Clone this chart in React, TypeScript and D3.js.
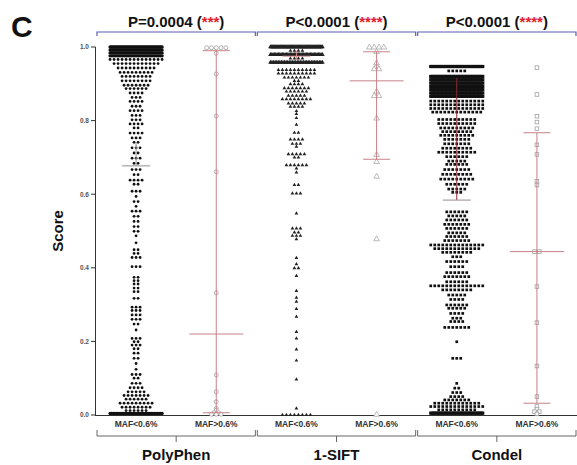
import React from "react";
import * as d3 from "d3";

const W = 577;
const H = 465;

const tools = ["PolyPhen", "1-SIFT", "Condel"];
const mafLabels = ["MAF<0.6%", "MAF>0.6%"];
const pValues = ["P=0.0004", "P<0.0001", "P<0.0001"];
const stars = ["***", "****", "****"];
const yTicks = [0, 0.2, 0.4, 0.6, 0.8, 1.0];

// rows of dots: [score, number of dots in that row]
const polyphenLow: [number, number][] = [
  [1.0, 45], [0.992, 40], [0.984, 35], [0.976, 30],
  [0.966, 14], [0.955, 12], [0.943, 10], [0.931, 9], [0.92, 8], [0.908, 8], [0.896, 7], [0.887, 6],
  [0.875, 4], [0.863, 3], [0.852, 4], [0.839, 3], [0.827, 4], [0.814, 3], [0.802, 3], [0.791, 4],
  [0.78, 2], [0.766, 4], [0.753, 3], [0.741, 2], [0.726, 3], [0.712, 2], [0.698, 3], [0.684, 2],
  [0.667, 3], [0.653, 2], [0.638, 4], [0.627, 2], [0.608, 3], [0.594, 1], [0.58, 2], [0.567, 1],
  [0.554, 3], [0.54, 2], [0.526, 2], [0.512, 2], [0.499, 2], [0.487, 1], [0.468, 1], [0.449, 2],
  [0.439, 2], [0.428, 3], [0.403, 3], [0.374, 2], [0.365, 2], [0.356, 2], [0.345, 2], [0.335, 2],
  [0.317, 2], [0.293, 3], [0.284, 3], [0.272, 3], [0.26, 3], [0.247, 2], [0.231, 1], [0.208, 3],
  [0.199, 2], [0.19, 3], [0.18, 2], [0.168, 2], [0.154, 2], [0.14, 1], [0.124, 1], [0.11, 3],
  [0.1, 2], [0.086, 3], [0.074, 4], [0.063, 5], [0.053, 7], [0.043, 6], [0.032, 9], [0.021, 8],
  [0.012, 6], [0.004, 35],
];

const polyphenHigh: [number, number][] = [
  [0.998, 5], [0.983, 1], [0.927, 1], [0.812, 1], [0.661, 1], [0.332, 1], [0.109, 1], [0.063, 1],
  [0.036, 1], [0.018, 1], [0.013, 1], [0.006, 2], [0.002, 3],
];

const siftLow: [number, number][] = [
  [1.0, 60], [0.99, 4], [0.979, 40], [0.969, 4], [0.958, 34], [0.938, 10], [0.928, 10],
  [0.917, 7], [0.908, 2], [0.899, 4], [0.888, 7], [0.879, 6], [0.868, 5], [0.858, 8], [0.847, 5],
  [0.838, 4], [0.826, 1], [0.818, 1], [0.807, 1], [0.789, 1], [0.767, 2], [0.749, 4], [0.737, 3],
  [0.729, 1], [0.709, 5], [0.7, 2], [0.679, 6], [0.67, 1], [0.659, 1], [0.625, 2], [0.602, 3],
  [0.548, 1], [0.507, 3], [0.496, 2], [0.487, 3], [0.478, 1], [0.427, 1], [0.41, 1], [0.399, 2],
  [0.378, 1], [0.337, 1], [0.319, 1], [0.308, 1], [0.288, 1], [0.267, 1], [0.226, 1], [0.208, 1],
  [0.178, 1], [0.148, 1], [0.097, 1], [0.018, 1], [0.0, 8],
];

const siftHigh: [number, number][] = [
  [0.999, 4], [0.987, 1], [0.956, 1], [0.947, 1], [0.94, 2], [0.879, 1], [0.867, 2], [0.806, 1],
  [0.707, 1], [0.688, 1], [0.648, 1], [0.478, 1], [0.001, 1],
];

const condelLow: [number, number][] = [
  [0.947, 30], [0.935, 5], [0.92, 35], [0.911, 35], [0.902, 38], [0.893, 40], [0.884, 40],
  [0.875, 40], [0.866, 40], [0.853, 14], [0.843, 14], [0.833, 14], [0.823, 13], [0.803, 10],
  [0.792, 10], [0.78, 9], [0.77, 8], [0.76, 9], [0.749, 7], [0.737, 7], [0.725, 8], [0.714, 10],
  [0.702, 6], [0.69, 5], [0.681, 6], [0.667, 7], [0.654, 8], [0.641, 9], [0.627, 6], [0.614, 5],
  [0.605, 3], [0.552, 6], [0.541, 5], [0.53, 6], [0.518, 7], [0.507, 6], [0.495, 5], [0.485, 6],
  [0.474, 7], [0.462, 14], [0.452, 12], [0.442, 8], [0.43, 3], [0.417, 6], [0.403, 4], [0.387, 6],
  [0.376, 7], [0.362, 6], [0.351, 14], [0.34, 8], [0.326, 5], [0.314, 4], [0.299, 6], [0.29, 5],
  [0.276, 4], [0.263, 3], [0.254, 4], [0.238, 7], [0.199, 1], [0.154, 3], [0.086, 1], [0.073, 2],
  [0.061, 3], [0.05, 4], [0.041, 7], [0.032, 12], [0.023, 14], [0.014, 10], [0.005, 40],
];

const condelHigh: [number, number][] = [
  [0.944, 1], [0.871, 1], [0.812, 1], [0.796, 1], [0.778, 1], [0.734, 1], [0.708, 1], [0.635, 1],
  [0.625, 1], [0.444, 2], [0.349, 1], [0.251, 1], [0.133, 1], [0.05, 1], [0.023, 1], [0.016, 1],
  [0.009, 2], [0.003, 1],
];

const seriesRows = [polyphenLow, polyphenHigh, siftLow, siftHigh, condelLow, condelHigh];
const medians = [0.677, 0.22, 0.975, 0.908, 0.584, 0.444];
const errLow = [0.677, 0.006, 0.965, 0.695, 0.584, 0.032];
const errHigh = [0.74, 0.99, 0.99, 0.987, 0.916, 0.767];

const FONT = "Arial, 'Liberation Sans', Helvetica, sans-serif";

export default function App() {
  const keys = d3.range(6).map(String);
  const x = d3.scaleBand<string>().domain(keys).range([96, 577]);
  const y = d3.scaleLinear().domain([0, 1]).range([415, 47]);
  const cx = (i: number) => (x(String(i)) as number) + x.bandwidth() / 2;

  const triSmall = d3.symbol().type(d3.symbolTriangle).size(6)() as string;
  const triBar = d3.symbol().type(d3.symbolTriangle).size(9)() as string;
  const triOpen = d3.symbol().type(d3.symbolTriangle).size(14)() as string;

  const marks: React.ReactNode[] = [];
  seriesRows.forEach((rows, g) => {
    const shape = Math.floor(g / 2);
    const open = g % 2 === 1;
    const base = open ? 4.8 : 4.0;
    const maxW = open ? 26 : 52;
    rows.forEach(([v, n], ri) => {
      const s = n > 1 ? Math.min(base, maxW / (n - 1)) : 0;
      const crowded = n >= 16;
      for (let k = 0; k < n; k++) {
        const px = cx(g) + (k - (n - 1) / 2) * s;
        const py = y(v);
        const key = `${g}-${ri}-${k}`;
        if (shape === 0) {
          marks.push(
            <circle key={key} cx={px} cy={py} r={open ? 2 : crowded ? 1.7 : 1.4}
              fill={open ? "white" : "#111"} stroke={open ? "#a0a0a0" : "none"} strokeWidth={0.8} />
          );
        } else if (shape === 1) {
          marks.push(
            <path key={key} d={open ? triOpen : crowded ? triBar : triSmall} transform={`translate(${px},${py})`}
              fill={open ? "white" : "#222"} stroke={open ? "#a8a8a8" : "none"} strokeWidth={0.8} />
          );
        } else {
          const sz = open ? 3.6 : crowded ? 3.2 : 2.7;
          marks.push(
            <rect key={key} x={px - sz / 2} y={py - sz / 2} width={sz} height={sz}
              fill={open ? "white" : "#111"} stroke={open ? "#a0a0a0" : "none"} strokeWidth={0.8} />
          );
        }
      }
    });
  });

  const lineColors = ["#9a9a9a", "#c98088", "#cf8a8a", "#c98088", "#8a2a35", "#c98088"];
  const medColors = ["#8f8f8f", "#c98088", "#cf8a8a", "#c98088", "#9a8c8c", "#c98088"];
  const stats = d3.range(6).map((g) => {
    const open = g % 2 === 1;
    const c = cx(g);
    const mw = open ? 27 : 14;
    return (
      <g key={`s${g}`}>
        <line x1={c} x2={c} y1={y(errLow[g])} y2={y(errHigh[g])} stroke={lineColors[g]} strokeWidth={1} />
        <line x1={c - mw} x2={c + mw} y1={y(medians[g])} y2={y(medians[g])} stroke={medColors[g]} strokeWidth={1} />
        {open && (
          <>
            <line x1={c - 13.5} x2={c + 13.5} y1={y(errLow[g])} y2={y(errLow[g])} stroke={lineColors[g]} strokeWidth={1} />
            <line x1={c - 13.5} x2={c + 13.5} y1={y(errHigh[g])} y2={y(errHigh[g])} stroke={lineColors[g]} strokeWidth={1} />
          </>
        )}
      </g>
    );
  });

  const brackets = tools.map((t, i) => {
    const left = x(String(i * 2)) as number;
    const right = left + x.bandwidth() * 2;
    const mid = (left + right) / 2;
    return (
      <g key={t}>
        <path d={`M${left + 1},36 V32 H${right - 1} V36`} fill="none" stroke="#5a5fb4" strokeWidth={1.2} />
        <text x={mid} y={27} textAnchor="middle" fontFamily={FONT} fontWeight="bold" fontSize={15} fill="#111">
          {pValues[i]} (<tspan fill="#e0202a">{stars[i]}</tspan>)
        </text>
        <path d={`M${left + 1},430 V436 H${right - 1} V430`} fill="none" stroke="#555" strokeWidth={0.9} />
        <line x1={mid} x2={mid} y1={436} y2={442} stroke="#555" strokeWidth={0.9} />
        <text x={mid} y={460} textAnchor="middle" fontFamily={FONT} fontWeight="bold" fontSize={15} fill="#111">
          {t}
        </text>
      </g>
    );
  });

  return (
    <svg width={W} height={H} style={{ position: "absolute", left: 0, top: 0, background: "white" }}>
      <rect width={W} height={H} fill="white" />
      <text x={11} y={37} fontFamily={FONT} fontWeight="bold" fontSize={30} fill="#111">C</text>
      {brackets}
      <line x1={95.5} x2={95.5} y1={y(1)} y2={y(0)} stroke="#333" strokeWidth={1} />
      {yTicks.map((t) => (
        <g key={t}>
          <line x1={91} x2={95.5} y1={y(t)} y2={y(t)} stroke="#333" strokeWidth={1} />
          <text x={89} y={y(t) + 2.3} textAnchor="end" fontFamily={FONT} fontWeight="bold" fontSize={6.5} fill="#555">
            {d3.format(".1f")(t)}
          </text>
        </g>
      ))}
      <line x1={95} x2={577} y1={y(0) + 0.5} y2={y(0) + 0.5} stroke="#333" strokeWidth={1} />
      {keys.map((k, i) => (
        <text key={k} x={cx(i)} y={427} textAnchor="middle" fontFamily={FONT} fontWeight="bold" fontSize={8.5} fill="#333">
          {mafLabels[i % 2]}
        </text>
      ))}
      <text transform={`translate(63,231) rotate(-90)`} textAnchor="middle" fontFamily={FONT} fontWeight="bold" fontSize={15} fill="#111">
        Score
      </text>
      {marks}
      {stats}
    </svg>
  );
}
